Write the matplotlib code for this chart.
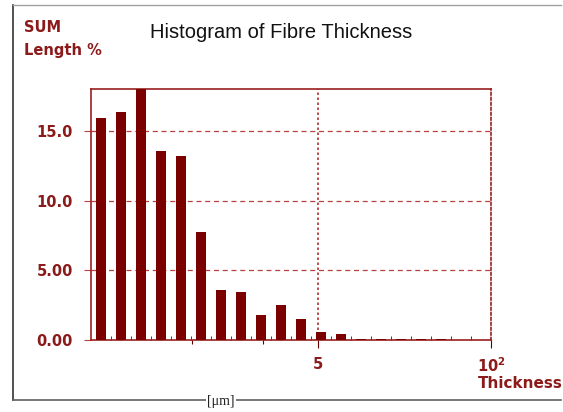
import matplotlib.pyplot as plt
from matplotlib.lines import Line2D
import numpy as np

# fibre thickness classes: 20 bins, ratio sqrt(2), from 100/1024 to 100 um
heights = [16.0, 16.4, 18.1, 13.6, 13.2, 7.8, 3.6, 3.45, 1.8, 2.5,
           1.5, 0.6, 0.45, 0.1, 0.05, 0.08, 0.06, 0.05, 0.0, 0.0]
y_ticks = [0, 5, 10, 15]
y_labels = ['0.00', '5.00', '10.0', '15.0']
x_major = [0.56, 1.92, 5, 100]
x_major_labels = ['', '', '5', r'$\mathbf{10^2}$']

x_min, x_max = 100 / 1024, 100
edges = x_min * np.sqrt(2) ** np.arange(len(heights) + 1)
bar_left = edges[:-1] * 2 ** (1 / 8)
bar_w = edges[:-1] * (2 ** (3 / 8) - 2 ** (1 / 8))

red = '#7a0000'
lab = '#8b1a1a'

W, H = 563, 412
fig = plt.figure(figsize=(W / 100, H / 100), dpi=100)
ax = fig.add_axes([91 / W, 72 / H, 400 / W, 251 / H])

ax.bar(bar_left, heights, width=bar_w, align='edge', color=red, zorder=3)
ax.set_xscale('log')
ax.set_xlim(x_min, x_max)
ax.set_ylim(0, 18.05)

for y in y_ticks[1:]:
    ax.axhline(y, color='#b84040', lw=0.9, ls=(0, (4, 3)), zorder=1)
ax.axvline(5, color='#b03030', lw=1.2, ls=(0, (1.5, 1.5)), zorder=1)

for s in ax.spines.values():
    s.set_color('#9a2020')
    s.set_linewidth(1.2)
ax.spines['right'].set_linestyle((0, (1.5, 1.5)))

ax.set_yticks(y_ticks)
ax.set_yticklabels(y_labels, fontsize=10.5, fontweight='bold', color=lab)
ax.set_xticks(x_major)
ax.set_xticklabels(x_major_labels, fontsize=10.5, fontweight='bold', color=lab)
ax.set_xticks(edges[1:-1], minor=True)
ax.xaxis.set_minor_formatter(plt.NullFormatter())
ax.tick_params(axis='y', length=5, color='#b84040', pad=8)
ax.tick_params(axis='x', which='major', length=6, direction='out', color='#600000', pad=6)
ax.tick_params(axis='x', which='minor', length=3, direction='in', color='#600000')
for t in ax.xaxis.get_major_ticks()[:2]:
    t.tick1line.set_markersize(3)

fig.text(281 / W, 1 - 32 / H, 'Histogram of Fibre Thickness', fontsize=14.5,
         family='Liberation Sans', ha='center', va='center', color='#111111')
fig.text(24 / W, 1 - 27 / H, 'SUM', fontsize=10.5, fontweight='bold', color=lab,
         ha='left', va='center')
fig.text(24 / W, 1 - 51 / H, 'Length %', fontsize=10.5, fontweight='bold', color=lab,
         ha='left', va='center')
fig.text(563 / W, 1 - 383 / H, 'Thickness', fontsize=11, fontweight='bold', color=lab,
         ha='right', va='center')

# outer frame
fc = '#606060'
fig.add_artist(Line2D([13 / W, 13 / W], [1 - 5 / H, 1 - 400 / H], color='#333333', lw=1.2))
fig.add_artist(Line2D([13 / W, 561 / W], [1 - 5 / H, 1 - 5 / H], color='#a0a0a0', lw=1))
fig.add_artist(Line2D([13 / W, 561 / W], [1 - 400 / H, 1 - 400 / H], color=fc, lw=1.2))
fig.text(221 / W, 1 - 402 / H, '[\u03bcm]', fontsize=10, family='Liberation Serif',
         ha='center', va='center', color='#222222',
         bbox=dict(facecolor='white', edgecolor='none', pad=1))

fig.savefig('out.png', dpi=100)
